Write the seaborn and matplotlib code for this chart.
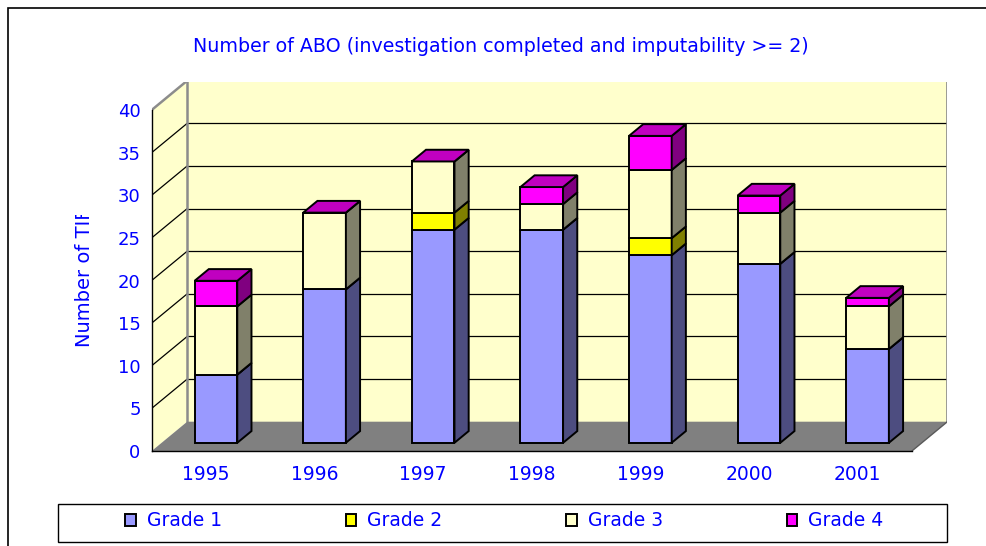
import numpy as np
import pandas as pd
import matplotlib
matplotlib.use("Agg")
import matplotlib.pyplot as plt
from matplotlib.patches import Polygon, Rectangle
from matplotlib.transforms import Bbox, TransformedBbox
import seaborn as sns

# ---- data -------------------------------------------------------------
years = ["1995", "1996", "1997", "1998", "1999", "2000", "2001"]
grade1 = [8, 18, 25, 25, 22, 21, 11]
grade2 = [0, 0, 2, 0, 2, 0, 0]
grade3 = [8, 9, 6, 3, 8, 6, 5]
grade4 = [3, 0, 0, 2, 4, 2, 1]
series_names = ["Grade 1", "Grade 2", "Grade 3", "Grade 4"]
y_ticks = [0, 5, 10, 15, 20, 25, 30, 35, 40]
title = "Number of ABO (investigation completed and imputability >= 2)"
y_label = "Number of TIF"

# ---- styling ----------------------------------------------------------
front_colors = ["#9999FF", "#FFFF00", "#FFFFCC", "#FF00FF"]
side_colors = ["#4D4D80", "#808000", "#80806A", "#800080"]
top_color = "#C000C0"
wall_color = "#FFFFCC"
floor_color = "#808080"
wall_edge = "#8C8C8C"
text_blue = "#0000FF"

W, H = 986, 546
sns.set_style("white")
plt.rcParams["font.family"] = ["DejaVu Sans"]

fig = plt.figure(figsize=(W / 100, H / 100), dpi=100)

# oblique 3-D look: pixel geometry of the plot box
CAT_PX, UNIT_PX = 108.6, 8.525        # one category / one unit in pixels
X0, Y0 = 151.7, 451.0                 # front-left floor corner
RIGHT_PX, TOP_PX = 946.7, 82.3        # back wall right / top
DX = 35.5 / CAT_PX                    # full depth offset in data units
DY = 29.3 / UNIT_PX
BAR_FRONT, BAR_DEPTH, BAR_W = 0.28, 0.40, 0.393

ax = fig.add_axes([X0 / W, 1 - Y0 / H, (RIGHT_PX - X0) / W, (Y0 - TOP_PX) / H])
ax.set_facecolor("none")

n = len(years)
xl, xr = -0.5, n - 0.5
ymax = y_ticks[-1]

# walls and floor
ax.add_patch(Rectangle((xl + DX, DY), n, ymax, facecolor=wall_color,
                       edgecolor="none", zorder=0.2))
ax.add_patch(Polygon([(xl, 0), (xl + DX, DY), (xl + DX, ymax + DY), (xl, ymax)],
                     closed=True, facecolor=wall_color, edgecolor="none", zorder=0.2))
ax.add_patch(Polygon([(xl, 0), (xr, 0), (xr + DX, DY), (xl + DX, DY)],
                     closed=True, facecolor=floor_color, edgecolor="none", zorder=0.4))
for v in y_ticks[1:-1]:
    ax.plot([xl + DX, xr + DX], [v + DY, v + DY], color="black", lw=0.9, zorder=0.3)
    ax.plot([xl, xl + DX], [v, v + DY], color="black", lw=0.9, zorder=0.3)
ax.plot([xl, xl + DX, xr + DX, xr + DX], [ymax, ymax + DY, ymax + DY, DY],
        color=wall_edge, lw=1.8, zorder=0.35, solid_joinstyle="miter")
ax.plot([xl + DX, xl + DX], [DY, ymax + DY], color=wall_edge, lw=1.8, zorder=0.35)
ax.plot([xr, xr + DX], [0, DY], color="#5A5A5A", lw=1.0, zorder=0.45)

# stacked bars with side and top faces
df = pd.DataFrame({"pos": np.arange(n) + BAR_FRONT * DX,
                   "Grade 1": grade1, "Grade 2": grade2,
                   "Grade 3": grade3, "Grade 4": grade4})
bdx, bdy = BAR_DEPTH * DX, BAR_DEPTH * DY
base = np.full(n, BAR_FRONT * DY)
for name, fc, sc in zip(series_names, front_colors, side_colors):
    sns.barplot(data=df, x="pos", y=name, native_scale=True, orient="x",
                width=BAR_W, bottom=base, color=fc, saturation=1,
                edgecolor="black", linewidth=1.4, errorbar=None,
                label=name, ax=ax, zorder=3)
    for p in ax.containers[-1].patches:
        x1 = p.get_x() + p.get_width()
        y0 = p.get_y()
        y1 = y0 + p.get_height()
        ax.add_patch(Polygon([(x1, y0), (x1 + bdx, y0 + bdy), (x1 + bdx, y1 + bdy), (x1, y1)],
                             closed=True, facecolor=sc, edgecolor="black",
                             lw=1.4, zorder=3, joinstyle="miter"))
    base = base + df[name].to_numpy()

for p in ax.containers[-1].patches:
    x0 = p.get_x()
    x1 = x0 + p.get_width()
    yt = p.get_y() + p.get_height()
    ax.add_patch(Polygon([(x0, yt), (x1, yt), (x1 + bdx, yt + bdy), (x0 + bdx, yt + bdy)],
                         closed=True, facecolor=top_color, edgecolor="black",
                         lw=1.4, zorder=3.1, joinstyle="miter"))

if ax.get_legend() is not None:
    ax.get_legend().remove()

# axes, ticks and labels
ax.set_xlim(xl, -0.5 + (RIGHT_PX - X0) / CAT_PX)
ax.set_ylim(0, (Y0 - TOP_PX) / UNIT_PX)
ax.set_xlabel("")
ax.set_ylabel("")
for side in ("top", "right"):
    ax.spines[side].set_visible(False)
for side in ("left", "bottom"):
    ax.spines[side].set_color("black")
    ax.spines[side].set_linewidth(1.0)
    ax.spines[side].set_zorder(5)
ax.spines["left"].set_bounds(0, ymax)
ax.spines["bottom"].set_bounds(xl, xr)

ax.set_yticks(y_ticks)
ax.set_yticklabels([str(t) for t in y_ticks])
ax.tick_params(axis="y", direction="out", length=5, width=1, color="black",
               labelcolor=text_blue, labelsize=13, pad=3)
ax.set_xticks(np.arange(n + 1) - 0.5)
ax.set_xticklabels([""] * (n + 1))
ax.set_xticks(np.arange(n), minor=True)
ax.set_xticklabels(years, minor=True)
ax.tick_params(axis="x", which="major", direction="out", length=5, width=1, color="black")
ax.tick_params(axis="x", which="minor", length=0, pad=10, labelsize=13.5,
               labelcolor=text_blue)

fig.text(500.5 / W, 1 - 46 / H, title, ha="center", va="center",
         fontsize=13.7, color=text_blue)

ylab = fig.text(85 / W, 1 - 346.7 / H, y_label, rotation=90, ha="center",
                va="bottom", fontsize=14, color=text_blue)
ylab.set_clip_box(TransformedBbox(Bbox.from_extents(0, 0, 1, 1 - 215 / H),
                                  fig.transFigure))
ylab.set_clip_on(True)

handles, labels = ax.get_legend_handles_labels()
fig.legend(handles, labels, loc="center", bbox_to_anchor=(504.5 / W, 1 - 521 / H),
           ncol=4, frameon=False, fontsize=13.5, labelcolor=text_blue,
           handlelength=0.55, handleheight=0.55, handletextpad=0.6,
           columnspacing=6.6, borderpad=0, borderaxespad=0)
fig.add_artist(Rectangle((58 / W, 1 - 542 / H), (947 - 58) / W, 38 / H,
                         transform=fig.transFigure, fill=False,
                         edgecolor="black", lw=1.0))
fig.add_artist(Rectangle((8 / W, -0.05), 1.1, 1 - 8 / H + 0.05,
                         transform=fig.transFigure, fill=False,
                         edgecolor="black", lw=1.2))

fig.savefig("out.png", dpi=100)
